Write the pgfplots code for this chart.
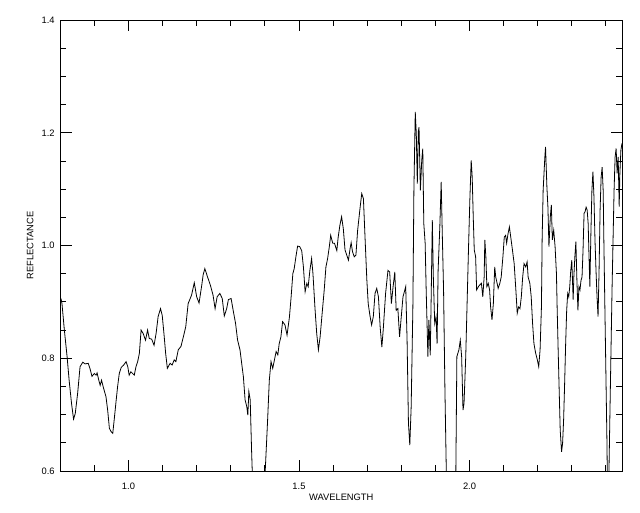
\documentclass[border=0pt]{standalone}
\usepackage{fontspec}
\setmainfont{Liberation Sans}
\usepackage{pgfplots}
\pgfplotsset{compat=1.18}
\begin{document}
\begin{tikzpicture}
\begin{axis}[
  scale only axis,
  width=421.5pt, height=338.25pt,
  xmin=0.8, xmax=2.448, ymin=0.6, ymax=1.4,
  xtick={1.0,1.5,2.0}, ytick={0.6,0.8,1.0,1.2,1.4},
  minor xtick={0.9,1.1,1.2,1.3,1.4,1.6,1.7,1.8,1.9,2.1,2.2,2.3,2.4},
  minor ytick={0.65,0.7,0.75,0.85,0.9,0.95,1.05,1.1,1.15,1.25,1.3,1.35},
  major tick length=0.3cm, minor tick length=0.16cm,
  every tick/.append style={black, line width=0.6pt},
  axis line style={line width=0.75pt},
  unbounded coords=jump,
  xticklabel style={anchor=center, yshift=-11.25pt, font=\fontsize{7}{8}\selectfont},
  yticklabel style={anchor=east, inner sep=0pt, xshift=-4pt, font=\fontsize{7}{8}\selectfont},
  xticklabel={\pgfmathprintnumber[assume math mode=true,fixed,fixed zerofill,precision=1]{\tick}},
  yticklabel={\pgfmathprintnumber[assume math mode=true,fixed,fixed zerofill,precision=1]{\tick}},
  xlabel={WAVELENGTH}, ylabel={REFLECTANCE},
  every axis x label/.style={at={(axis description cs:0.5,0)}, anchor=center, yshift=-19.5pt, font=\fontsize{7}{8}\selectfont},
  every axis y label/.style={at={(axis description cs:0,0.5)}, rotate=90, anchor=center, yshift=22.5pt, font=\fontsize{7}{8}\selectfont},
]
% tick marks on all four sides (IDL style), as short segments
\addplot[black, line width=0.6pt, forget plot] coordinates {
(0.9,0.6)(0.9,0.6106)(0.9,nan)(1.1,0.6)(1.1,0.6106)(1.1,nan)(1.2,0.6)(1.2,0.6106)(1.2,nan)(1.3,0.6)(1.3,0.6106)(1.3,nan)
(1.4,0.6)(1.4,0.6106)(1.4,nan)(1.6,0.6)(1.6,0.6106)(1.6,nan)(1.7,0.6)(1.7,0.6106)(1.7,nan)(1.8,0.6)(1.8,0.6106)(1.8,nan)
(1.9,0.6)(1.9,0.6106)(1.9,nan)(2.1,0.6)(2.1,0.6106)(2.1,nan)(2.2,0.6)(2.2,0.6106)(2.2,nan)(2.3,0.6)(2.3,0.6106)(2.3,nan)
(2.4,0.6)(2.4,0.6106)(2.4,nan)
(1.0,0.6)(1.0,0.6195)(1.0,nan)(1.5,0.6)(1.5,0.6195)(1.5,nan)(2.0,0.6)(2.0,0.6195)(2.0,nan)
(0.9,1.4)(0.9,1.3894)(0.9,nan)(1.1,1.4)(1.1,1.3894)(1.1,nan)(1.2,1.4)(1.2,1.3894)(1.2,nan)(1.3,1.4)(1.3,1.3894)(1.3,nan)
(1.4,1.4)(1.4,1.3894)(1.4,nan)(1.6,1.4)(1.6,1.3894)(1.6,nan)(1.7,1.4)(1.7,1.3894)(1.7,nan)(1.8,1.4)(1.8,1.3894)(1.8,nan)
(1.9,1.4)(1.9,1.3894)(1.9,nan)(2.1,1.4)(2.1,1.3894)(2.1,nan)(2.2,1.4)(2.2,1.3894)(2.2,nan)(2.3,1.4)(2.3,1.3894)(2.3,nan)
(2.4,1.4)(2.4,1.3894)(2.4,nan)
(1.0,1.4)(1.0,1.3805)(1.0,nan)(1.5,1.4)(1.5,1.3805)(1.5,nan)(2.0,1.4)(2.0,1.3805)(2.0,nan)
(0.8,0.65)(0.8176,0.65)(nan,0.65)(0.8,0.70)(0.8176,0.70)(nan,0.70)(0.8,0.75)(0.8176,0.75)(nan,0.75)
(0.8,0.85)(0.8176,0.85)(nan,0.85)(0.8,0.90)(0.8176,0.90)(nan,0.90)(0.8,0.95)(0.8176,0.95)(nan,0.95)
(0.8,1.05)(0.8176,1.05)(nan,1.05)(0.8,1.10)(0.8176,1.10)(nan,1.10)(0.8,1.15)(0.8176,1.15)(nan,1.15)
(0.8,1.25)(0.8176,1.25)(nan,1.25)(0.8,1.30)(0.8176,1.30)(nan,1.30)(0.8,1.35)(0.8176,1.35)(nan,1.35)
(0.8,0.8)(0.8323,0.8)(nan,0.8)(0.8,1.0)(0.8323,1.0)(nan,1.0)(0.8,1.2)(0.8323,1.2)(nan,1.2)
(2.448,0.65)(2.4304,0.65)(nan,0.65)(2.448,0.70)(2.4304,0.70)(nan,0.70)(2.448,0.75)(2.4304,0.75)(nan,0.75)
(2.448,0.85)(2.4304,0.85)(nan,0.85)(2.448,0.90)(2.4304,0.90)(nan,0.90)(2.448,0.95)(2.4304,0.95)(nan,0.95)
(2.448,1.05)(2.4304,1.05)(nan,1.05)(2.448,1.10)(2.4304,1.10)(nan,1.10)(2.448,1.15)(2.4304,1.15)(nan,1.15)
(2.448,1.25)(2.4304,1.25)(nan,1.25)(2.448,1.30)(2.4304,1.30)(nan,1.30)(2.448,1.35)(2.4304,1.35)(nan,1.35)
(2.448,0.8)(2.4157,0.8)(nan,0.8)(2.448,1.0)(2.4157,1.0)(nan,1.0)(2.448,1.2)(2.4157,1.2)
};
\addplot[black, line width=0.6pt] coordinates {
(0.802,0.906)(0.805,0.897)(0.812,0.850)(0.820,0.803)(0.826,0.761)(0.833,0.720)(0.839,0.692)(0.844,0.702)(0.851,0.738)(0.858,0.785)
(0.866,0.793)(0.873,0.790)(0.882,0.791)(0.887,0.782)(0.893,0.768)(0.900,0.773)(0.905,0.770)(0.908,0.774)(0.913,0.761)(0.917,0.752)
(0.921,0.761)(0.926,0.749)(0.934,0.732)(0.939,0.708)(0.944,0.676)(0.949,0.670)(0.954,0.667)(0.958,0.690)(0.963,0.720)(0.968,0.749)
(0.973,0.773)(0.979,0.784)(0.986,0.788)(0.993,0.794)(0.998,0.785)(1.002,0.770)(1.007,0.776)(1.012,0.773)(1.017,0.770)(1.022,0.785)
(1.027,0.794)(1.032,0.809)(1.037,0.850)(1.043,0.844)(1.050,0.832)(1.056,0.850)(1.061,0.835)(1.068,0.834)(1.075,0.823)(1.081,0.844)
(1.087,0.874)(1.094,0.888)(1.099,0.876)(1.104,0.844)(1.109,0.809)(1.114,0.782)(1.122,0.791)(1.128,0.788)(1.134,0.797)(1.139,0.794)
(1.146,0.815)(1.154,0.821)(1.161,0.838)(1.168,0.856)(1.175,0.897)(1.185,0.912)(1.193,0.934)(1.200,0.909)(1.207,0.898)(1.215,0.930)
(1.219,0.948)(1.224,0.959)(1.232,0.944)(1.240,0.930)(1.248,0.912)(1.254,0.888)(1.260,0.909)(1.268,0.915)(1.275,0.906)(1.281,0.875)
(1.288,0.888)(1.293,0.904)(1.301,0.906)(1.307,0.885)(1.314,0.862)(1.320,0.832)(1.327,0.815)(1.332,0.791)(1.337,0.767)(1.342,0.726)
(1.347,0.714)(1.350,0.699)(1.353,0.741)(1.357,0.726)(1.361,0.637)(1.364,0.580)(1.370,0.450)(1.385,0.420)(1.397,0.500)(1.401,0.600)
(1.408,0.690)(1.413,0.761)(1.418,0.794)(1.423,0.782)(1.428,0.797)(1.433,0.812)(1.438,0.806)(1.442,0.826)(1.447,0.838)(1.452,0.865)
(1.459,0.859)(1.465,0.841)(1.472,0.873)(1.477,0.909)(1.482,0.950)(1.486,0.959)(1.491,0.980)(1.496,0.999)(1.502,0.998)(1.508,0.991)
(1.513,0.962)(1.518,0.918)(1.523,0.933)(1.527,0.927)(1.532,0.956)(1.537,0.977)(1.541,0.950)(1.547,0.888)(1.552,0.844)(1.557,0.815)
(1.562,0.838)(1.568,0.880)(1.574,0.921)(1.579,0.962)(1.584,0.977)(1.589,0.998)(1.593,1.018)(1.599,1.004)(1.604,1.004)(1.611,0.991)
(1.615,1.015)(1.620,1.036)(1.625,1.051)(1.630,1.030)(1.635,0.992)(1.640,0.983)(1.645,0.974)(1.650,0.995)(1.653,1.005)(1.657,0.989)
(1.662,0.980)(1.667,0.983)(1.672,1.027)(1.679,1.066)(1.684,1.092)(1.689,1.083)(1.694,1.010)(1.699,0.939)(1.703,0.897)(1.708,0.876)
(1.713,0.859)(1.718,0.874)(1.723,0.915)(1.728,0.924)(1.733,0.909)(1.738,0.856)(1.743,0.820)(1.747,0.850)(1.754,0.915)(1.761,0.956)
(1.766,0.953)(1.771,0.897)(1.776,0.927)(1.781,0.953)(1.785,0.885)(1.790,0.888)(1.795,0.838)(1.800,0.874)(1.805,0.909)(1.809,0.918)
(1.813,0.927)(1.817,0.832)(1.821,0.685)(1.825,0.646)(1.829,0.714)(1.834,0.891)(1.837,1.098)(1.841,1.237)(1.844,1.199)(1.847,1.110)
(1.850,1.202)(1.852,1.210)(1.856,1.098)(1.860,1.151)(1.863,1.172)(1.866,1.039)(1.870,1.004)(1.873,0.921)(1.878,0.803)(1.881,0.868)
(1.885,0.805)(1.888,0.921)(1.891,1.045)(1.894,0.944)(1.898,0.862)(1.902,0.874)(1.905,0.826)(1.908,0.956)(1.913,1.033)(1.917,1.113)
(1.920,1.027)(1.924,0.921)(1.928,0.744)(1.932,0.600)(1.936,0.500)(1.946,0.450)(1.956,0.500)(1.960,0.600)(1.963,0.803)(1.969,0.815)
(1.973,0.832)(1.977,0.803)(1.981,0.708)(1.984,0.720)(1.989,0.803)(1.994,0.921)(1.997,0.992)(2.001,1.080)(2.005,1.151)(2.008,1.121)
(2.011,1.051)(2.014,0.992)(2.018,0.980)(2.021,0.921)(2.026,0.927)(2.030,0.930)(2.035,0.933)(2.039,0.909)(2.043,0.944)(2.045,1.010)
(2.048,0.980)(2.051,0.927)(2.055,0.933)(2.059,0.921)(2.062,0.891)(2.066,0.868)(2.070,0.897)(2.074,0.962)(2.077,0.944)(2.081,0.933)
(2.084,0.924)(2.089,0.933)(2.093,0.944)(2.098,0.980)(2.102,1.015)(2.106,1.018)(2.109,1.004)(2.113,1.021)(2.117,1.033)(2.121,1.015)
(2.126,0.992)(2.131,0.968)(2.136,0.921)(2.140,0.880)(2.144,0.891)(2.148,0.888)(2.152,0.909)(2.156,0.944)(2.160,0.968)(2.165,0.962)
(2.169,0.971)(2.172,0.944)(2.177,0.933)(2.181,0.909)(2.185,0.862)(2.189,0.826)(2.194,0.809)(2.199,0.797)(2.203,0.785)(2.207,0.815)
(2.211,0.891)(2.213,1.010)(2.216,1.098)(2.221,1.157)(2.223,1.175)(2.227,1.104)(2.230,1.068)(2.233,0.998)(2.237,1.051)(2.240,1.072)
(2.243,1.010)(2.247,1.027)(2.251,0.998)(2.255,0.950)(2.257,0.891)(2.260,0.815)(2.263,0.744)(2.266,0.673)(2.270,0.634)(2.273,0.649)
(2.276,0.690)(2.279,0.755)(2.282,0.826)(2.285,0.885)(2.288,0.915)(2.291,0.909)(2.294,0.927)(2.297,0.956)(2.300,0.974)(2.304,0.904)
(2.306,0.944)(2.309,0.980)(2.312,1.007)(2.315,0.938)(2.318,0.885)(2.321,0.927)(2.324,0.921)(2.327,0.938)(2.330,0.944)(2.333,0.992)
(2.336,1.057)(2.339,1.060)(2.342,1.068)(2.345,1.063)(2.348,1.039)(2.350,0.992)(2.353,0.927)(2.356,1.021)(2.359,1.098)(2.362,1.131)
(2.365,1.086)(2.368,1.010)(2.371,0.956)(2.374,0.909)(2.377,0.874)(2.380,0.956)(2.383,1.063)(2.386,1.121)(2.389,1.139)(2.392,1.098)
(2.394,1.010)(2.397,0.891)(2.400,0.773)(2.403,0.655)(2.405,0.550)(2.407,0.500)(2.409,0.600)(2.413,0.744)(2.415,0.815)(2.418,0.921)
(2.421,1.010)(2.424,1.098)(2.427,1.157)(2.430,1.172)(2.433,1.128)(2.436,1.157)(2.439,1.069)(2.441,1.128)(2.444,1.169)(2.447,1.181)
};
\end{axis}
\pgfresetboundingbox
\path ([xshift=-45.2pt,yshift=-30.75pt]current axis.south west) rectangle ++(480pt,384pt);
\end{tikzpicture}
\end{document}
